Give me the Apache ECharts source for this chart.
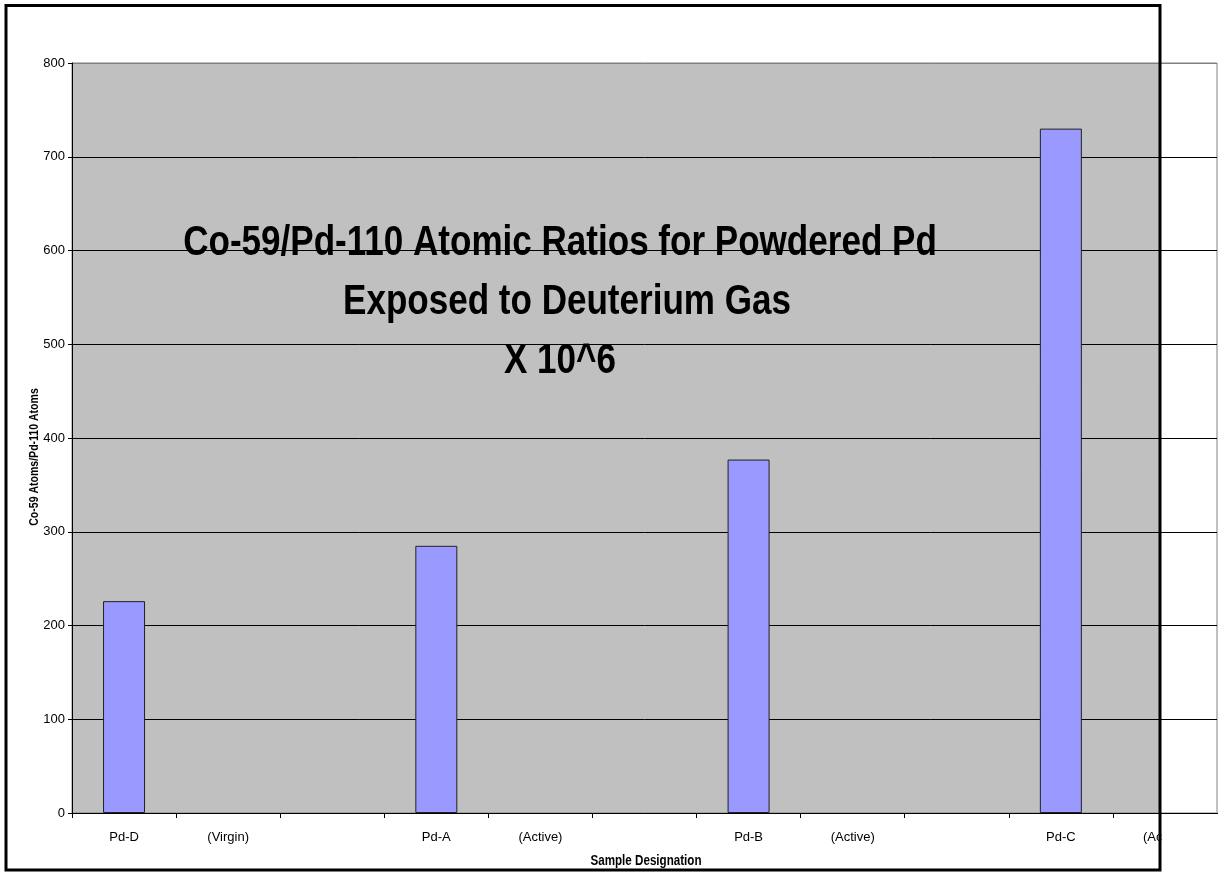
<!DOCTYPE html>
<html>
<head>
<meta charset="utf-8">
<script src="https://cdn.jsdelivr.net/npm/echarts@6/dist/echarts.min.js"></script>
<style>
  html, body { margin: 0; padding: 0; background: #fff; }
  #chart { width: 1218px; height: 873px; }
</style>
</head>
<body>
<div id="chart"></div>
<script>
// Sample designations along the category axis (blank slots are spacer columns)
const categories = ['Pd-D', '(Virgin)', '', 'Pd-A', '(Active)', '', 'Pd-B', '(Active)', '', 'Pd-C', '(Active)'];
// Co-59 / Pd-110 atomic ratio (x 10^6) for each slot
const ratios = [226, null, null, 285, null, null, 377, null, null, 730, null];
// Value axis range and step
const yMin = 0;
const yMax = 800;
const yStep = 100;
// Chart texts
const titleLines = ['Co-59/Pd-110 Atomic Ratios for Powdered Pd', 'Exposed to Deuterium Gas', 'X 10^6'];
const yAxisTitle = 'Co-59 Atoms/Pd-110 Atoms';
const xAxisTitle = 'Sample Designation';

const FONT = "'Liberation Sans', Arial, Helvetica, sans-serif";

const chart = echarts.init(document.getElementById('chart'), null, { renderer: 'canvas' });

const tickCount = (yMax - yMin) / yStep + 1;
const splitColors = [];
for (let i = 0; i < tickCount; i++) splitColors.push(i === tickCount - 1 ? '#808080' : '#000000');

// Condensed bold text, squeezed along its writing direction
function squeezed(text, x, y, size, sx, rotation) {
  return {
    type: 'text',
    x: x, y: y,
    rotation: rotation || 0,
    scaleX: sx,
    z: 50,
    style: {
      text: text,
      x: 0, y: 0,
      align: 'center',
      verticalAlign: 'middle',
      font: 'bold ' + size + 'px ' + FONT,
      fill: '#000'
    }
  };
}

chart.setOption({
  animation: false,
  backgroundColor: '#ffffff',
  grid: {
    left: 72, right: 1, top: 63, bottom: 60,
    show: true,
    backgroundColor: 'transparent',
    borderColor: '#808080',
    borderWidth: 1
  },
  xAxis: {
    type: 'category',
    data: categories,
    boundaryGap: true,
    axisLine: { show: true, lineStyle: { color: '#000', width: 1 } },
    axisTick: { show: true, interval: 0, length: 5, lineStyle: { color: '#000' } },
    axisLabel: {
      interval: 0,
      margin: 18,
      color: '#000',
      fontSize: 13,
      fontFamily: FONT
    },
    splitLine: { show: false }
  },
  yAxis: {
    type: 'value',
    min: yMin, max: yMax, interval: yStep,
    axisLine: { show: true, lineStyle: { color: '#000', width: 1 } },
    axisTick: { show: true, length: 4, lineStyle: { color: '#000' } },
    axisLabel: {
      margin: 7,
      color: '#000',
      fontSize: 13,
      fontFamily: FONT
    },
    splitLine: { show: true, lineStyle: { color: splitColors, width: 1 } }
  },
  series: [{
    type: 'bar',
    data: ratios,
    barWidth: 42,
    itemStyle: { color: '#9999ff', borderColor: '#222', borderWidth: 1 }
  }],
  graphic: [
    // grey plot backdrop, clipped at the frame
    { type: 'rect', z: -1, shape: { x: 72, y: 63, width: 1088, height: 750 }, style: { fill: '#c0c0c0' } },
    // chart title inside the plot
    squeezed(titleLines[0], 560, 243, 43, 0.815),
    squeezed(titleLines[1], 567, 302, 43, 0.815),
    squeezed(titleLines[2], 560, 361, 43, 0.815),
    // axis titles
    squeezed(yAxisTitle, 34, 457, 13, 0.81, Math.PI / 2),
    squeezed(xAxisTitle, 646, 861, 14, 0.83),
    // area outside the frame below the plot
    { type: 'rect', z: 100, shape: { x: 1161.5, y: 814, width: 60, height: 60 }, style: { fill: '#ffffff' } },
    // chart frame
    { type: 'rect', z: 101, shape: { x: 6, y: 5.5, width: 1154, height: 864.5 }, style: { fill: 'none', stroke: '#000', lineWidth: 3 } }
  ]
});
</script>
</body>
</html>
